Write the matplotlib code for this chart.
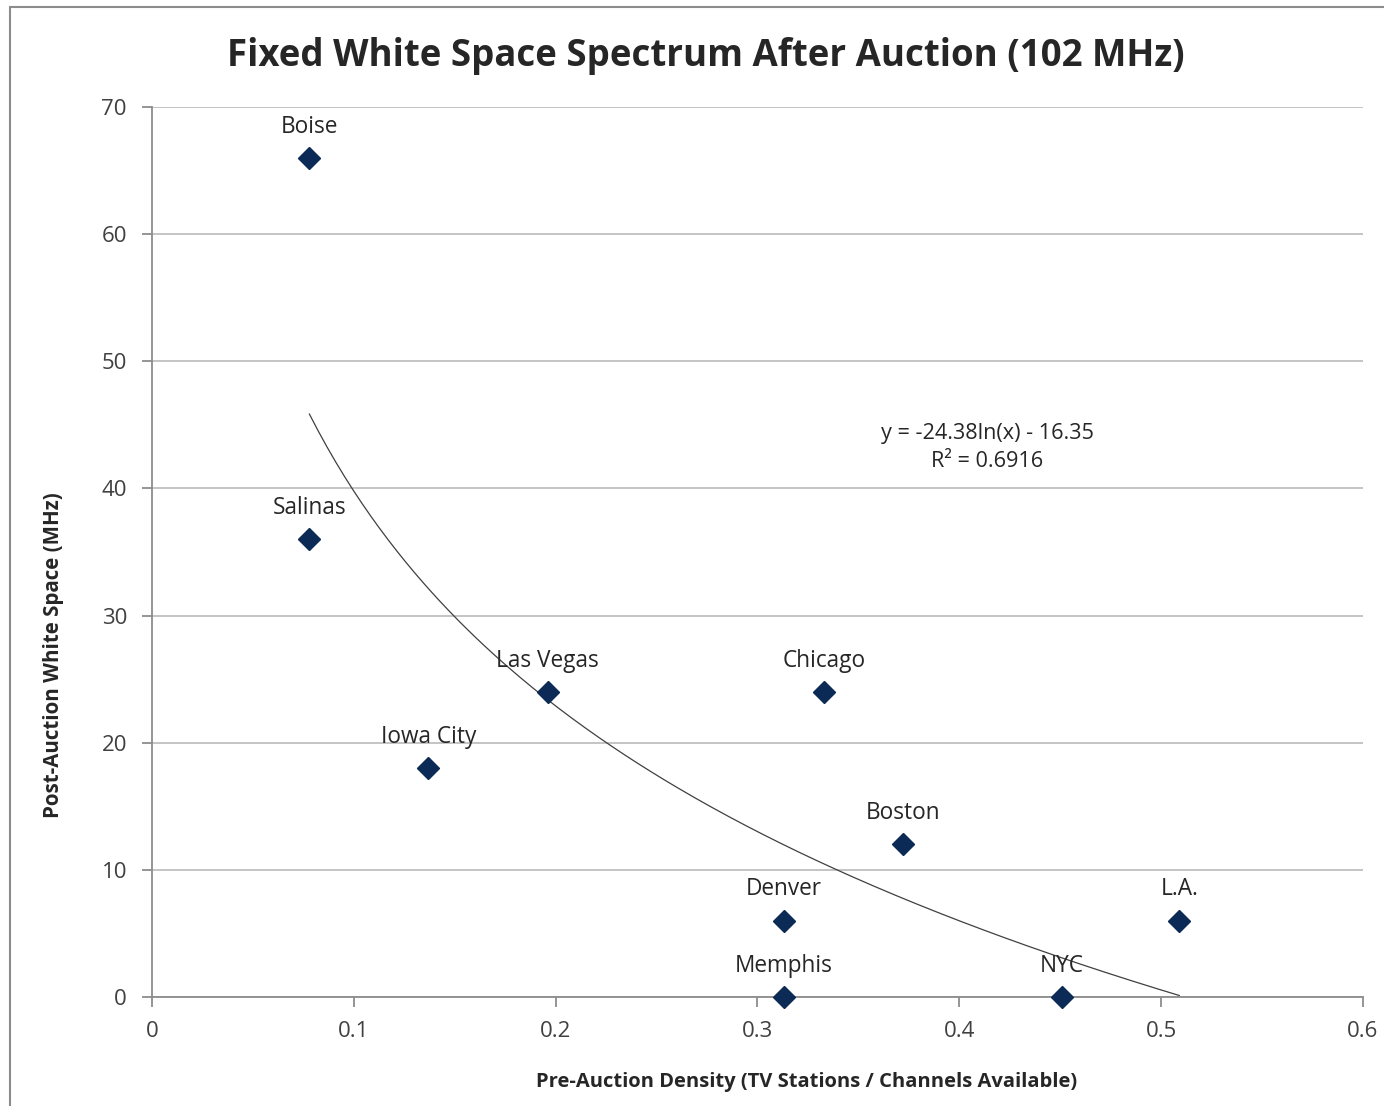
import numpy as np
import matplotlib
matplotlib.use("Agg")
import matplotlib.pyplot as plt
from matplotlib.patches import Rectangle

plt.rcParams['font.family'] = ['Open Sans', 'DejaVu Sans']

cities = ['Boise', 'Salinas', 'Iowa City', 'Las Vegas', 'Chicago',
          'Boston', 'Denver', 'Memphis', 'NYC', 'L.A.']
density = [0.078, 0.078, 0.137, 0.196, 0.333, 0.372, 0.313, 0.313, 0.451, 0.509]
white_space = [66, 36, 18, 24, 24, 12, 6, 0, 0, 6]

# log trend line: y = a*ln(x) + b
fit_a, fit_b = -24.38, -16.35
r_squared = 0.6916

fig = plt.figure(figsize=(13.84, 11.06), dpi=100)
ax = fig.add_axes([0.1098, 0.0986, 0.875, 0.8047])

# outer chart border
fig.patches.append(Rectangle((0.0072, -0.05), 1.2, 1.044, transform=fig.transFigure,
                             fill=False, edgecolor='#8c8c8c', linewidth=1.5))

xs = np.linspace(min(density), max(density), 200)
ax.plot(xs, fit_a * np.log(xs) + fit_b, color='#404040', linewidth=0.9, zorder=2)

ax.plot(density, white_space, linestyle='none', marker='D', markersize=11,
        color='#0b2a55', zorder=3, clip_on=False)

for name, x, y in zip(cities, density, white_space):
    ax.annotate(name, (x, y), xytext=(0, 22.5), textcoords='offset points',
                ha='center', va='center', fontsize=16.3, color='#262626', zorder=4)

ax.text(0.4138, 43.2, 'y = -24.38ln(x) - 16.35\nR² = %.4f' % r_squared,
        ha='center', va='center', fontsize=15.6, color='#262626', linespacing=1.45)

ax.set_xlim(0, 0.6)
ax.set_ylim(0, 70)
ax.set_xticks(np.arange(0, 0.61, 0.1))
ax.set_xticklabels(['0', '0.1', '0.2', '0.3', '0.4', '0.5', '0.6'])
ax.set_yticks(range(0, 71, 10))

ax.grid(axis='y', color='#bfbfbf', linewidth=1.3)
ax.set_axisbelow(True)
for side in ['top', 'right']:
    ax.spines[side].set_visible(False)
for side in ['left', 'bottom']:
    ax.spines[side].set_color('#8c8c8c')
    ax.spines[side].set_linewidth(1.3)
ax.tick_params(axis='both', color='#8c8c8c', length=7, width=1.3,
               labelsize=16, labelcolor='#404040', direction='out')
ax.tick_params(axis='x', pad=10)
ax.tick_params(axis='y', pad=11)

ax.set_xlabel('Pre-Auction Density (TV Stations / Channels Available)',
              fontsize=14.5, fontweight='bold', color='#262626')
ax.set_ylabel('Post-Auction White Space (MHz)',
              fontsize=14.8, fontweight='bold', color='#262626')
ax.xaxis.set_label_coords(0.5405, -0.084)
ax.yaxis.set_label_coords(-0.0727, 0.384)
fig.text(0.51, 0.9497, 'Fixed White Space Spectrum After Auction (102 MHz)',
         ha='center', va='center', fontsize=26.4, fontweight='bold', color='#262626')

fig.savefig('out.png', dpi=100, facecolor='white')
